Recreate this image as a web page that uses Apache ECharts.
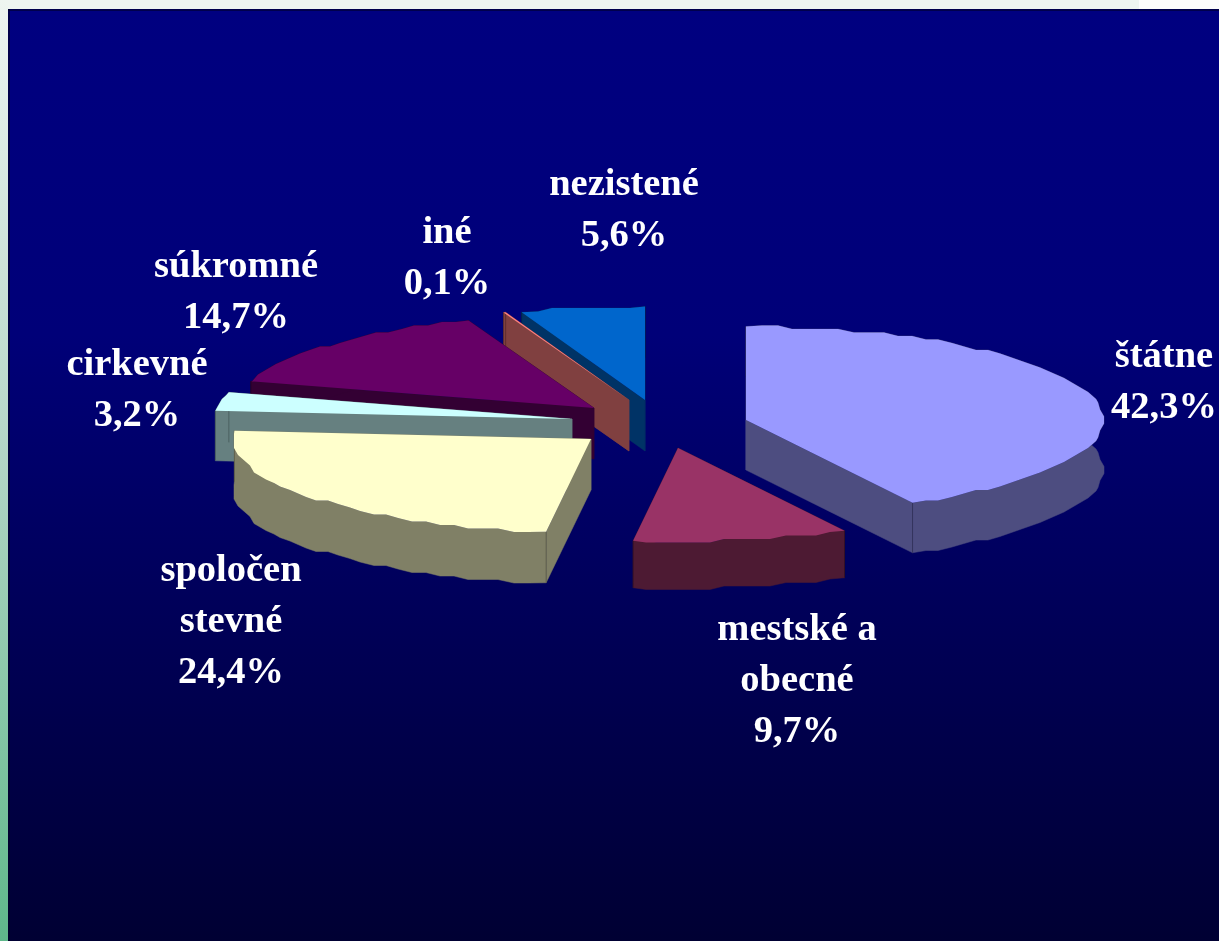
<!DOCTYPE html>
<html>
<head>
<meta charset="utf-8">
<style>html,body{margin:0;padding:0;background:#eef5f0}#c{width:1219px;height:941px}</style>
<script src="https://cdn.jsdelivr.net/npm/echarts@6/dist/echarts.min.js"></script>
</head>
<body>
<div id="c"></div>
<script>
// data
const categories = ['štátne', 'mestské a\nobecné', 'spoločen\nstevné', 'cirkevné', 'súkromné', 'iné', 'nezistené'];
const shares = [42.3, 9.7, 24.4, 3.2, 14.7, 0.1, 5.6];

// styles and layout, per slice
const topColors = ['#9999FF', '#993366', '#FFFFCC', '#CCFFFF', '#660066', '#FF8080', '#0066CC'];
const sideColors = ['#4D4D80', '#4D1A33', '#808066', '#668080', '#330033', '#804040', '#003366'];
const explodeX = [101, 33, -54, -73, -51, -16, 0];
const explodeY = [0, 28, 19, -1, -12, -20, -20];
const depths = [50, 47, 51, 50, 51, 51, 51];
const labelX = [1164, 797, 231, 137, 236, 447, 624];
const labelY = [383, 681, 622, 391, 293, 259, 211];
const drawOrder = [6, 5, 4, 3, 2, 1, 0];
const CX = 645, CY = 420, RX = 358, RY = 93.5;
const STEP_DEG = 2.5, GRID_X = 2, GRID_Y = 3.5;

const total = shares.reduce((a, b) => a + b, 0);
const starts = [];
shares.reduce((acc, v, i) => { starts[i] = acc; return acc + v; }, 0);

function rim(ax, ay, a0, a1) {
  const pts = [];
  const at = a => [ax + RX * Math.sin(a * Math.PI / 180), ay - RY * Math.cos(a * Math.PI / 180)];
  pts.push(at(a0));
  for (let a = Math.ceil(a0 / STEP_DEG + 0.3) * STEP_DEG; a < a1 - 0.8; a += STEP_DEG) {
    const p = at(a);
    pts.push([Math.round(p[0] / GRID_X) * GRID_X, Math.round(p[1] / GRID_Y) * GRID_Y]);
  }
  pts.push(at(a1));
  return pts;
}

function renderItem(params, api) {
  const order = params.dataIndex;
  const i = drawOrder[order];
  const value = api.value(0);
  const a0 = starts[i] / total * 360;
  const a1 = a0 + value / total * 360;
  const ax = CX + explodeX[i], ay = CY + explodeY[i], d = depths[i];
  const r = rim(ax, ay, a0, a1);
  const low = p => [p[0], p[1] + d];
  const apex = [ax, ay];
  const first = r[0], last = r[r.length - 1];
  const side = sideColors[i];
  const fillStyle = { fill: side, stroke: side, lineWidth: 0.5 };
  const base = order * 10;
  const children = [
    { type: 'polygon', z2: base + 1, shape: { points: [apex, first, low(first), low(apex)] }, style: fillStyle },
    { type: 'polygon', z2: base + 1, shape: { points: [apex, last, low(last), low(apex)] }, style: fillStyle },
    { type: 'polygon', z2: base + 2, shape: { points: r.concat(r.slice().reverse().map(low)) }, style: fillStyle },
    { type: 'line', z2: base + 3, shape: { x1: last[0], y1: last[1], x2: last[0], y2: last[1] + d }, style: { stroke: 'rgba(0,0,0,0.25)', lineWidth: 1 } },
    { type: 'line', z2: base + 3, shape: { x1: first[0], y1: first[1], x2: first[0], y2: first[1] + d }, style: { stroke: 'rgba(0,0,0,0.25)', lineWidth: 1 } },
    { type: 'polygon', z2: base + 4, shape: { points: [apex].concat(r) }, style: { fill: topColors[i] } },
    { type: 'text', z2: 500, style: {
        x: labelX[i], y: labelY[i],
        text: categories[i] + '\n' + value.toFixed(1).replace('.', ',') + '%',
        fill: '#FFFFFF', fontFamily: '"Liberation Serif", serif', fontWeight: 'bold', fontSize: 38.5,
        lineHeight: 51, align: 'center', verticalAlign: 'middle'
      } }
  ];
  return { type: 'group', children };
}

const chart = echarts.init(document.getElementById('c'), null, { renderer: 'canvas' });
chart.setOption({
  animation: false,
  backgroundColor: '#eef5f0',
  graphic: [
    { type: 'rect', z: -10, shape: { x: 1139, y: 0, width: 80, height: 9 }, style: { fill: '#fcfdfc' } },
    { type: 'rect', z: -10, shape: { x: 0, y: 0, width: 8, height: 941 }, style: {
        fill: new echarts.graphic.LinearGradient(0, 0, 0, 1, [{ offset: 0, color: '#eef5f0' }, { offset: 0.45, color: '#b8d8c8' }, { offset: 1, color: '#5fb88a' }]) } },
    { type: 'rect', z: -9, shape: { x: 8, y: 9, width: 1211, height: 932 }, style: {
        fill: new echarts.graphic.LinearGradient(0, 0, 0, 1, [{ offset: 0, color: '#000080' }, { offset: 0.35, color: '#000078' }, { offset: 1, color: '#000033' }]) } },
    { type: 'rect', z: -8, shape: { x: 8, y: 9, width: 1211, height: 2 }, style: { fill: 'rgba(0,0,40,0.6)' } },
    { type: 'rect', z: -8, shape: { x: 8, y: 9, width: 2, height: 932 }, style: { fill: 'rgba(0,0,40,0.6)' } }
  ],
  series: [{
    type: 'custom',
    coordinateSystem: 'none',
    silent: true,
    renderItem,
    data: drawOrder.map(i => [shares[i]])
  }]
});
</script>
</body>
</html>
